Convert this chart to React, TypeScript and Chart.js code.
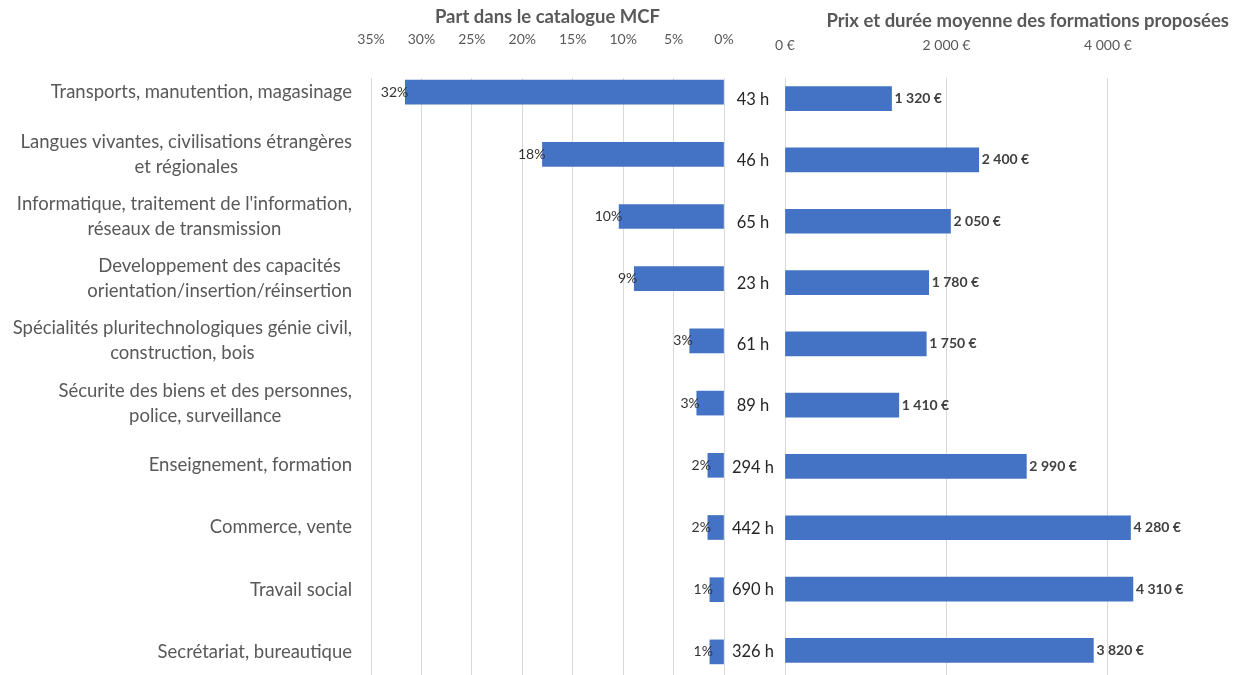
import React, { useEffect, useRef } from 'react';
import { Chart, registerables } from 'chart.js';

Chart.register(...registerables);

// ---------- DATA ----------
const categories: string[][] = [
  ['Transports, manutention, magasinage'],
  ['Langues vivantes, civilisations étrangères', 'et régionales'],
  ["Informatique, traitement de l'information,", 'réseaux de transmission'],
  ['Developpement des capacités', 'orientation/insertion/réinsertion'],
  ['Spécialités pluritechnologiques génie civil,', 'construction, bois'],
  ['Sécurite des biens et des personnes,', 'police, surveillance'],
  ['Enseignement, formation'],
  ['Commerce, vente'],
  ['Travail social'],
  ['Secrétariat, bureautique'],
];
const shareCatalogue = [31.6, 18.0, 10.4, 8.9, 3.4, 2.7, 1.6, 1.6, 1.4, 1.4];
const avgPrice = [1320, 2400, 2050, 1780, 1750, 1410, 2990, 4280, 4310, 3820];
const avgHours = [43, 46, 65, 23, 61, 89, 294, 442, 690, 326];
const shareTicks = [0, 5, 10, 15, 20, 25, 30, 35];
const priceTicks = [0, 2000, 4000];

const leftTitle = 'Part dans le catalogue MCF';
const rightTitle = 'Prix et durée moyenne des formations proposées';

// ---------- STYLE ----------
const FONT = 'Lato';
const BAR = '#4472C4';
const GRID = '#d9d9d9';
const GRAY = '#595959';
const DARK = '#404040';

const fmtThousands = (v: number) =>
  String(Math.round(v)).replace(/\B(?=(\d{3})+(?!\d))/g, ' ');

const GRID_START = 78;

function maskPlugin(id: string) {
  return {
    id,
    beforeDatasetsDraw(chart: any) {
      const { ctx, chartArea } = chart;
      if (GRID_START <= chartArea.top) return;
      ctx.save();
      ctx.fillStyle = '#ffffff';
      ctx.fillRect(chartArea.left - 2, chartArea.top - 1, chartArea.right - chartArea.left + 4, GRID_START - chartArea.top + 1);
      ctx.restore();
    },
  };
}

export default function App() {
  const leftRef = useRef<HTMLCanvasElement>(null);
  const rightRef = useRef<HTMLCanvasElement>(null);

  useEffect(() => {
    const leftLabels = {
      id: 'leftLabels',
      afterDraw(chart: any) {
        const { ctx, chartArea } = chart;
        const meta = chart.getDatasetMeta(0);
        ctx.save();
        // category labels
        ctx.font = `18.5px ${FONT}`;
        ctx.fillStyle = GRAY;
        ctx.textAlign = 'center';
        ctx.textBaseline = 'middle';
        const rightEdge = chartArea.left - 19;
        const lh = 25;
        meta.data.forEach((bar: any, i: number) => {
          const lines = categories[i];
          const w = Math.max(...lines.map((l) => ctx.measureText(l).width));
          const cx = rightEdge - w / 2;
          const y0 = bar.y - ((lines.length - 1) * lh) / 2;
          lines.forEach((l, k) => ctx.fillText(l, cx, y0 + k * lh));
        });
        // value labels
        ctx.font = `14px ${FONT}`;
        ctx.fillStyle = '#333333';
        ctx.textAlign = 'right';
        meta.data.forEach((bar: any, i: number) => {
          ctx.fillText(Math.round(shareCatalogue[i]) + '%', bar.x + 3, bar.y);
        });
        ctx.restore();
      },
    };

    const rightLabels = {
      id: 'rightLabels',
      afterDraw(chart: any) {
        const { ctx, chartArea } = chart;
        const meta = chart.getDatasetMeta(0);
        ctx.save();
        ctx.textBaseline = 'middle';
        ctx.font = `16.5px ${FONT}`;
        ctx.fillStyle = '#262626';
        ctx.textAlign = 'center';
        meta.data.forEach((bar: any, i: number) => {
          ctx.fillText(avgHours[i] + ' h', chartArea.left - 32, bar.y + 1);
        });
        ctx.font = `bold 14px ${FONT}`;
        ctx.fillStyle = DARK;
        ctx.textAlign = 'left';
        meta.data.forEach((bar: any, i: number) => {
          ctx.fillText(fmtThousands(avgPrice[i]) + ' €', bar.x + 3, bar.y);
        });
        ctx.restore();
      },
    };

    const rowLabels = categories.map((c) => c.join(' '));

    const left = new Chart(leftRef.current!, {
      type: 'bar',
      data: {
        labels: rowLabels,
        datasets: [
          {
            data: shareCatalogue,
            backgroundColor: BAR,
            barThickness: 24,
          },
        ],
      },
      options: {
        animation: false,
        responsive: false,
        maintainAspectRatio: false,
        indexAxis: 'y',
        layout: { padding: { left: 371, right: 16, top: 0, bottom: 17 } },
        plugins: { legend: { display: false }, tooltip: { enabled: false } },
        scales: {
          x: {
            position: 'top',
            reverse: true,
            min: 0,
            max: 35,
            afterFit: (s: any) => {
              s.height = 61;
            },
            afterBuildTicks: (s: any) => {
              s.ticks = shareTicks.map((v) => ({ value: v }));
            },
            ticks: {
              padding: 13,
              color: GRAY,
              font: { family: FONT, size: 14 },
              callback: (v: any) => v + '%',
            },
            grid: { color: GRID, drawTicks: false },
            border: { display: false },
            title: {
              display: true,
              text: leftTitle,
              color: GRAY,
              font: { family: FONT, size: 18.5, weight: 'bold' },
              padding: { top: 6, bottom: 0 },
            },
          },
          y: { display: false },
        },
      },
      plugins: [maskPlugin('maskL'), leftLabels],
    });

    const right = new Chart(rightRef.current!, {
      type: 'bar',
      data: {
        labels: rowLabels,
        datasets: [
          {
            data: avgPrice,
            backgroundColor: BAR,
            barThickness: 24,
          },
        ],
      },
      options: {
        animation: false,
        responsive: false,
        maintainAspectRatio: false,
        indexAxis: 'y',
        layout: { padding: { left: 55, right: 4, top: 0, bottom: 19 } },
        plugins: { legend: { display: false }, tooltip: { enabled: false } },
        scales: {
          x: {
            position: 'top',
            min: 0,
            max: 5500,
            afterFit: (s: any) => {
              s.height = 68;
            },
            afterBuildTicks: (s: any) => {
              s.ticks = priceTicks.map((v) => ({ value: v }));
            },
            ticks: {
              padding: 14,
              color: GRAY,
              font: { family: FONT, size: 14 },
              callback: (v: any) => fmtThousands(Number(v)) + ' €',
            },
            grid: { color: GRID, drawTicks: false },
            border: { display: false },
            title: {
              display: true,
              text: rightTitle,
              align: 'end',
              color: GRAY,
              font: { family: FONT, size: 18.5, weight: 'bold' },
              padding: { top: 10, bottom: 0 },
            },
          },
          y: { display: false },
        },
      },
      plugins: [maskPlugin('maskR'), rightLabels],
    });

    return () => {
      left.destroy();
      right.destroy();
    };
  }, []);

  return (
    <div
      style={{
        position: 'fixed',
        left: 0,
        top: 0,
        width: 1233,
        height: 675,
        overflow: 'hidden',
        background: '#ffffff',
      }}
    >
      <canvas ref={leftRef} width={740} height={700} style={{ position: 'absolute', left: 0, top: 0 }} />
      <canvas ref={rightRef} width={503} height={700} style={{ position: 'absolute', left: 730, top: 0 }} />
    </div>
  );
}
